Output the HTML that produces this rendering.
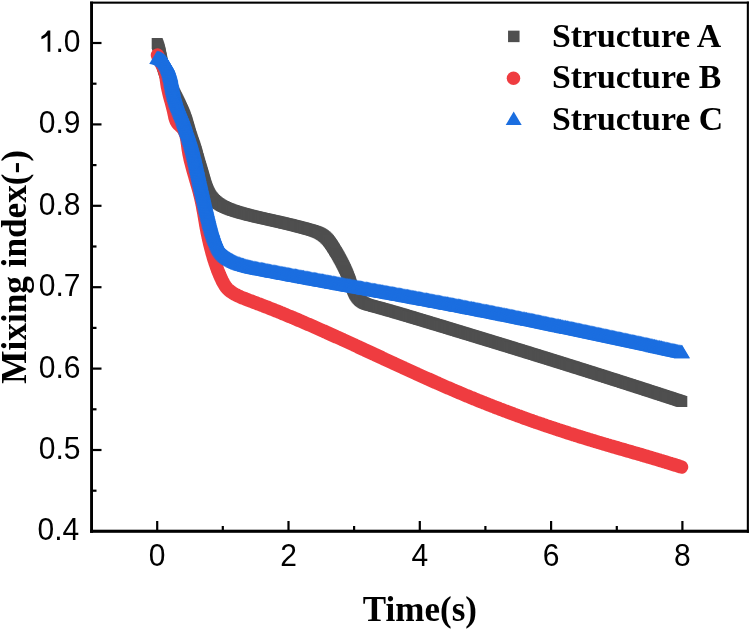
<!DOCTYPE html>
<html><head><meta charset="utf-8"><style>
html,body{margin:0;padding:0;background:#fff;}
svg{display:block;will-change:transform;}
</style></head><body>
<svg width="750" height="629" viewBox="0 0 750 629">
<defs>
<marker id="mq" markerUnits="userSpaceOnUse" markerWidth="20" markerHeight="20" refX="10" refY="10" overflow="visible"><rect x="4.5" y="4.5" width="11.0" height="11.0" fill="#4f4f4f"/></marker>
<marker id="mt" markerUnits="userSpaceOnUse" markerWidth="20" markerHeight="20" refX="10" refY="10" overflow="visible"><path d="M10 3.25 L18.0 16.75 L2.0 16.75 Z" fill="#1b6ee0"/></marker>
</defs>
<rect x="0" y="0" width="750" height="629" fill="#fff"/>
<g fill="none">
<polyline points="157.2,43.5 157.6,44.6 158.0,45.7 158.4,46.9 158.8,48.0 159.1,49.2 159.4,50.3 159.7,51.5 160.0,52.7 160.2,53.8 160.5,55.0 160.7,56.2 161.0,57.4 161.2,58.6 161.4,59.7 161.7,60.9 161.9,62.1 162.2,63.3 162.4,64.4 162.7,65.6 163.0,66.7 163.4,67.9 163.7,69.1 164.1,70.2 164.5,71.3 164.9,72.5 165.3,73.6 165.7,74.7 166.2,75.8 166.6,76.9 167.1,78.0 167.5,79.1 168.0,80.2 168.5,81.3 169.0,82.4 169.5,83.5 170.0,84.6 170.5,85.7 171.0,86.8 171.5,87.9 172.0,89.0 172.5,90.1 173.1,91.1 173.6,92.2 174.1,93.3 174.7,94.4 175.2,95.4 175.7,96.5 176.3,97.6 176.8,98.6 177.3,99.7 177.9,100.8 178.4,101.9 178.9,102.9 179.5,104.0 180.0,105.1 180.5,106.2 181.0,107.3 181.5,108.4 182.0,109.5 182.5,110.6 183.0,111.7 183.5,112.8 183.9,113.9 184.4,115.0 184.8,116.1 185.2,117.2 185.6,118.4 186.0,119.5 186.4,120.6 186.8,121.8 187.1,122.9 187.5,124.1 187.8,125.2 188.1,126.4 188.5,127.5 188.8,128.7 189.1,129.8 189.5,131.0 189.8,132.1 190.1,133.3 190.5,134.4 190.8,135.6 191.2,136.7 191.6,137.9 191.9,139.0 192.3,140.1 192.7,141.3 193.1,142.4 193.5,143.5 193.9,144.7 194.3,145.8 194.7,146.9 195.0,148.1 195.4,149.2 195.8,150.4 196.1,151.5 196.4,152.7 196.8,153.8 197.1,155.0 197.4,156.1 197.7,157.3 198.1,158.5 198.4,159.6 198.7,160.8 199.0,161.9 199.4,163.1 199.7,164.2 200.0,165.4 200.4,166.5 200.7,167.7 201.1,168.8 201.4,170.0 201.8,171.1 202.1,172.3 202.5,173.4 202.8,174.6 203.1,175.7 203.5,176.9 203.8,178.0 204.1,179.2 204.4,180.3 204.8,181.5 205.1,182.7 205.4,183.8 205.8,185.0 206.2,186.1 206.6,187.2 207.0,188.4 207.4,189.5 207.9,190.6 208.3,191.7 208.9,192.8 209.4,193.8 210.0,194.9 210.6,195.9 211.3,196.9 212.1,197.8 212.8,198.7 213.6,199.6 214.5,200.5 215.4,201.3 216.3,202.0 217.3,202.8 218.2,203.5 219.2,204.1 220.2,204.8 221.3,205.4 222.3,206.0 223.4,206.5 224.5,207.0 225.6,207.5 226.7,208.0 227.8,208.5 228.9,208.9 230.0,209.3 231.1,209.8 232.3,210.2 233.4,210.5 234.6,210.9 235.7,211.3 236.8,211.6 238.0,212.0 239.1,212.3 240.3,212.7 241.4,213.0 242.6,213.3 243.8,213.6 244.9,213.9 246.1,214.2 247.2,214.6 248.4,214.9 249.6,215.2 250.7,215.4 251.9,215.7 253.1,216.0 254.2,216.3 255.4,216.6 256.6,216.9 257.7,217.1 258.9,217.4 260.1,217.7 261.2,217.9 262.4,218.2 263.6,218.5 264.7,218.7 265.9,219.0 267.1,219.2 268.3,219.5 269.4,219.8 270.6,220.0 271.8,220.3 272.9,220.6 274.1,220.8 275.3,221.1 276.5,221.3 277.6,221.6 278.8,221.9 280.0,222.1 281.1,222.4 282.3,222.7 283.5,223.0 284.6,223.2 285.8,223.5 287.0,223.8 288.1,224.1 289.3,224.3 290.5,224.6 291.6,224.9 292.8,225.2 294.0,225.5 295.1,225.8 296.3,226.1 297.5,226.4 298.6,226.7 299.8,227.0 300.9,227.3 302.1,227.6 303.3,227.9 304.4,228.2 305.6,228.5 306.7,228.9 307.9,229.2 309.0,229.5 310.2,229.8 311.3,230.2 312.5,230.5 313.6,230.9 314.8,231.3 315.9,231.7 317.0,232.1 318.1,232.6 319.2,233.1 320.3,233.7 321.3,234.3 322.3,234.9 323.3,235.6 324.2,236.4 325.2,237.1 326.0,238.0 326.9,238.8 327.7,239.7 328.5,240.6 329.2,241.5 329.9,242.5 330.6,243.5 331.3,244.5 332.0,245.5 332.6,246.5 333.2,247.5 333.9,248.5 334.5,249.6 335.1,250.6 335.7,251.6 336.4,252.6 337.0,253.7 337.6,254.7 338.2,255.8 338.8,256.8 339.3,257.8 339.9,258.9 340.5,259.9 341.1,261.0 341.6,262.1 342.2,263.1 342.7,264.2 343.3,265.3 343.8,266.3 344.3,267.4 344.8,268.5 345.4,269.6 345.8,270.7 346.3,271.8 346.8,272.9 347.3,274.0 347.7,275.1 348.2,276.2 348.6,277.3 349.0,278.5 349.5,279.6 349.9,280.7 350.3,281.8 350.6,283.0 351.0,284.1 351.4,285.3 351.8,286.4 352.2,287.5 352.6,288.7 353.0,289.8 353.5,290.9 354.0,292.0 354.5,293.1 355.1,294.1 355.7,295.1 356.4,296.1 357.1,297.1 357.8,298.0 358.6,298.9 359.5,299.8 360.4,300.6 361.3,301.3 362.3,302.0 363.3,302.7 364.4,303.2 365.4,303.7 366.6,304.1 367.7,304.5 368.8,304.9 370.0,305.2 371.2,305.5 372.3,305.8 373.5,306.2 374.6,306.5 375.8,306.8 377.0,307.1 378.1,307.4 379.3,307.7 380.4,308.0 381.6,308.4 382.7,308.7 383.9,309.0 385.0,309.3 386.2,309.7 387.4,310.0 388.5,310.3 389.7,310.7 390.8,311.0 392.0,311.3 393.1,311.6 394.3,312.0 395.4,312.3 396.6,312.7 397.7,313.0 398.9,313.3 400.0,313.7 401.2,314.0 402.3,314.3 403.5,314.7 404.6,315.0 405.8,315.4 406.9,315.7 408.1,316.1 409.2,316.4 410.4,316.7 411.5,317.1 412.7,317.4 413.8,317.8 415.0,318.1 416.1,318.5 417.3,318.8 418.4,319.2 419.6,319.5 420.7,319.8 421.9,320.2 423.0,320.5 424.2,320.9 425.3,321.2 426.5,321.6 427.6,321.9 428.8,322.3 429.9,322.6 431.1,323.0 432.2,323.3 433.4,323.7 434.5,324.0 435.7,324.4 436.8,324.7 438.0,325.0 439.1,325.4 440.3,325.7 441.4,326.1 442.6,326.4 443.7,326.8 444.9,327.1 446.0,327.5 447.2,327.8 448.3,328.2 449.4,328.5 450.6,328.9 451.7,329.2 452.9,329.6 454.0,329.9 455.2,330.3 456.3,330.6 457.5,331.0 458.6,331.3 459.8,331.7 460.9,332.0 462.1,332.4 463.2,332.7 464.4,333.1 465.5,333.4 466.7,333.8 467.8,334.1 469.0,334.5 470.1,334.8 471.3,335.2 472.4,335.5 473.6,335.9 474.7,336.2 475.9,336.6 477.0,336.9 478.2,337.3 479.3,337.6 480.4,338.0 481.6,338.3 482.7,338.7 483.9,339.0 485.0,339.4 486.2,339.7 487.3,340.1 488.5,340.4 489.6,340.8 490.8,341.1 491.9,341.5 493.1,341.8 494.2,342.2 495.4,342.5 496.5,342.9 497.7,343.2 498.8,343.6 500.0,343.9 501.1,344.3 502.2,344.6 503.4,345.0 504.5,345.3 505.7,345.7 506.8,346.0 508.0,346.4 509.1,346.7 510.3,347.1 511.4,347.4 512.6,347.8 513.7,348.2 514.9,348.5 516.0,348.9 517.2,349.2 518.3,349.6 519.5,349.9 520.6,350.3 521.7,350.6 522.9,351.0 524.0,351.3 525.2,351.7 526.3,352.0 527.5,352.4 528.6,352.8 529.8,353.1 530.9,353.5 532.1,353.8 533.2,354.2 534.4,354.5 535.5,354.9 536.6,355.2 537.8,355.6 538.9,356.0 540.1,356.3 541.2,356.7 542.4,357.0 543.5,357.4 544.7,357.7 545.8,358.1 547.0,358.4 548.1,358.8 549.3,359.2 550.4,359.5 551.5,359.9 552.7,360.2 553.8,360.6 555.0,360.9 556.1,361.3 557.3,361.7 558.4,362.0 559.6,362.4 560.7,362.7 561.9,363.1 563.0,363.4 564.1,363.8 565.3,364.2 566.4,364.5 567.6,364.9 568.7,365.2 569.9,365.6 571.0,366.0 572.2,366.3 573.3,366.7 574.5,367.0 575.6,367.4 576.7,367.8 577.9,368.1 579.0,368.5 580.2,368.8 581.3,369.2 582.5,369.6 583.6,369.9 584.8,370.3 585.9,370.6 587.0,371.0 588.2,371.4 589.3,371.7 590.5,372.1 591.6,372.4 592.8,372.8 593.9,373.2 595.1,373.5 596.2,373.9 597.3,374.3 598.5,374.6 599.6,375.0 600.8,375.3 601.9,375.7 603.1,376.1 604.2,376.4 605.3,376.8 606.5,377.2 607.6,377.5 608.8,377.9 609.9,378.3 611.1,378.6 612.2,379.0 613.3,379.3 614.5,379.7 615.6,380.1 616.8,380.4 617.9,380.8 619.1,381.2 620.2,381.5 621.4,381.9 622.5,382.3 623.6,382.6 624.8,383.0 625.9,383.4 627.1,383.7 628.2,384.1 629.4,384.5 630.5,384.8 631.6,385.2 632.8,385.6 633.9,385.9 635.1,386.3 636.2,386.7 637.3,387.0 638.5,387.4 639.6,387.8 640.8,388.1 641.9,388.5 643.1,388.9 644.2,389.2 645.3,389.6 646.5,390.0 647.6,390.4 648.8,390.7 649.9,391.1 651.1,391.5 652.2,391.8 653.3,392.2 654.5,392.6 655.6,392.9 656.8,393.3 657.9,393.7 659.0,394.1 660.2,394.4 661.3,394.8 662.5,395.2 663.6,395.5 664.7,395.9 665.9,396.3 667.0,396.7 668.2,397.0 669.3,397.4 670.5,397.8 671.6,398.1 672.7,398.5 673.9,398.9 675.0,399.3 676.2,399.6 677.3,400.0 678.4,400.4 679.6,400.8 680.7,401.1 681.8,401.5" stroke="none" marker-start="url(#mq)" marker-mid="url(#mq)" marker-end="url(#mq)"/>
<polyline points="157.5,55.0 157.9,56.1 158.3,57.3 158.8,58.4 159.3,59.4 159.8,60.5 160.3,61.6 160.9,62.7 161.4,63.8 161.9,64.8 162.5,65.9 163.0,67.0 163.5,68.1 163.9,69.2 164.4,70.3 164.8,71.4 165.1,72.6 165.4,73.8 165.7,74.9 165.9,76.1 166.1,77.3 166.3,78.5 166.4,79.7 166.6,80.9 166.8,82.0 166.9,83.2 167.1,84.4 167.3,85.6 167.5,86.8 167.8,88.0 168.0,89.1 168.3,90.3 168.6,91.5 168.8,92.6 169.1,93.8 169.4,95.0 169.7,96.1 170.0,97.3 170.3,98.4 170.6,99.6 171.0,100.8 171.3,101.9 171.6,103.1 171.9,104.2 172.2,105.4 172.5,106.6 172.8,107.7 173.1,108.9 173.4,110.1 173.7,111.2 173.9,112.4 174.2,113.6 174.4,114.7 174.7,115.9 174.9,117.1 175.2,118.2 175.6,119.4 176.0,120.5 176.5,121.6 177.1,122.6 177.8,123.6 178.6,124.5 179.5,125.3 180.4,126.1 181.3,126.9 182.1,127.8 182.9,128.7 183.6,129.7 184.2,130.7 184.7,131.8 185.2,132.9 185.6,134.0 186.0,135.2 186.3,136.3 186.6,137.5 186.8,138.7 187.0,139.8 187.2,141.0 187.3,142.2 187.5,143.4 187.7,144.6 187.8,145.8 188.0,147.0 188.1,148.2 188.3,149.4 188.5,150.5 188.7,151.7 188.9,152.9 189.1,154.1 189.4,155.3 189.6,156.4 189.9,157.6 190.1,158.8 190.4,160.0 190.7,161.1 191.0,162.3 191.3,163.4 191.6,164.6 191.9,165.8 192.2,166.9 192.5,168.1 192.8,169.2 193.1,170.4 193.5,171.6 193.8,172.7 194.1,173.9 194.5,175.0 194.8,176.2 195.1,177.3 195.5,178.5 195.8,179.6 196.1,180.8 196.5,181.9 196.8,183.1 197.1,184.2 197.5,185.4 197.8,186.5 198.1,187.7 198.5,188.8 198.8,190.0 199.1,191.2 199.4,192.3 199.7,193.5 200.0,194.6 200.3,195.8 200.6,197.0 200.9,198.1 201.1,199.3 201.4,200.5 201.6,201.7 201.9,202.8 202.1,204.0 202.4,205.2 202.6,206.4 202.8,207.5 203.0,208.7 203.2,209.9 203.5,211.1 203.7,212.3 203.9,213.4 204.1,214.6 204.3,215.8 204.5,217.0 204.7,218.2 204.9,219.4 205.1,220.5 205.3,221.7 205.5,222.9 205.7,224.1 205.9,225.3 206.1,226.5 206.3,227.6 206.6,228.8 206.8,230.0 207.0,231.2 207.2,232.3 207.5,233.5 207.7,234.7 208.0,235.9 208.2,237.0 208.5,238.2 208.7,239.4 209.0,240.6 209.3,241.7 209.5,242.9 209.8,244.1 210.1,245.2 210.4,246.4 210.7,247.6 211.0,248.7 211.3,249.9 211.6,251.0 211.9,252.2 212.2,253.4 212.6,254.5 212.9,255.7 213.2,256.8 213.6,258.0 213.9,259.1 214.3,260.3 214.7,261.4 215.0,262.5 215.4,263.7 215.8,264.8 216.2,265.9 216.6,267.1 217.0,268.2 217.4,269.3 217.8,270.5 218.3,271.6 218.7,272.7 219.2,273.8 219.6,274.9 220.1,276.0 220.6,277.1 221.1,278.2 221.6,279.3 222.1,280.4 222.6,281.4 223.2,282.5 223.8,283.6 224.4,284.6 225.0,285.6 225.7,286.6 226.4,287.6 227.2,288.5 228.0,289.3 228.9,290.2 229.8,290.9 230.8,291.6 231.8,292.3 232.8,293.0 233.8,293.6 234.9,294.2 235.9,294.7 237.0,295.3 238.1,295.8 239.2,296.3 240.2,296.8 241.3,297.3 242.4,297.8 243.6,298.2 244.7,298.7 245.8,299.1 246.9,299.5 248.0,300.0 249.1,300.4 250.3,300.8 251.4,301.2 252.5,301.6 253.6,302.1 254.8,302.5 255.9,302.9 257.0,303.3 258.1,303.8 259.3,304.2 260.4,304.6 261.5,305.1 262.6,305.5 263.7,305.9 264.9,306.4 266.0,306.8 267.1,307.2 268.2,307.7 269.3,308.1 270.4,308.6 271.6,309.0 272.7,309.4 273.8,309.9 274.9,310.3 276.0,310.8 277.1,311.2 278.2,311.7 279.3,312.1 280.5,312.6 281.6,313.0 282.7,313.5 283.8,314.0 284.9,314.4 286.0,314.9 287.1,315.3 288.2,315.8 289.3,316.3 290.4,316.7 291.5,317.2 292.6,317.6 293.8,318.1 294.9,318.6 296.0,319.0 297.1,319.5 298.2,320.0 299.3,320.5 300.4,320.9 301.5,321.4 302.6,321.9 303.7,322.4 304.8,322.8 305.9,323.3 307.0,323.8 308.1,324.3 309.2,324.7 310.3,325.2 311.4,325.7 312.5,326.2 313.6,326.7 314.7,327.1 315.8,327.6 316.9,328.1 318.0,328.6 319.1,329.1 320.2,329.6 321.3,330.1 322.4,330.6 323.5,331.0 324.6,331.5 325.7,332.0 326.7,332.5 327.8,333.0 328.9,333.5 330.0,334.0 331.1,334.5 332.2,335.0 333.3,335.5 334.4,336.0 335.5,336.5 336.6,337.0 337.7,337.4 338.8,337.9 339.9,338.4 341.0,338.9 342.1,339.4 343.1,339.9 344.2,340.4 345.3,340.9 346.4,341.4 347.5,341.9 348.6,342.4 349.7,342.9 350.8,343.4 351.9,343.9 353.0,344.4 354.1,344.9 355.1,345.4 356.2,345.9 357.3,346.4 358.4,347.0 359.5,347.5 360.6,348.0 361.7,348.5 362.8,349.0 363.9,349.5 364.9,350.0 366.0,350.5 367.1,351.0 368.2,351.5 369.3,352.0 370.4,352.5 371.5,353.0 372.6,353.5 373.7,354.0 374.7,354.5 375.8,355.0 376.9,355.5 378.0,356.0 379.1,356.5 380.2,357.0 381.3,357.5 382.4,358.1 383.5,358.6 384.5,359.1 385.6,359.6 386.7,360.1 387.8,360.6 388.9,361.1 390.0,361.6 391.1,362.1 392.2,362.6 393.3,363.1 394.3,363.6 395.4,364.1 396.5,364.6 397.6,365.1 398.7,365.6 399.8,366.1 400.9,366.6 402.0,367.1 403.1,367.6 404.1,368.1 405.2,368.6 406.3,369.1 407.4,369.6 408.5,370.1 409.6,370.6 410.7,371.1 411.8,371.6 412.9,372.1 414.0,372.6 415.1,373.1 416.2,373.6 417.2,374.1 418.3,374.6 419.4,375.1 420.5,375.6 421.6,376.1 422.7,376.6 423.8,377.1 424.9,377.6 426.0,378.1 427.1,378.6 428.2,379.0 429.3,379.5 430.4,380.0 431.5,380.5 432.6,381.0 433.7,381.5 434.8,382.0 435.9,382.5 437.0,382.9 438.0,383.4 439.1,383.9 440.2,384.4 441.3,384.9 442.4,385.4 443.5,385.8 444.6,386.3 445.7,386.8 446.8,387.3 447.9,387.8 449.0,388.2 450.1,388.7 451.2,389.2 452.3,389.7 453.5,390.1 454.6,390.6 455.7,391.1 456.8,391.6 457.9,392.0 459.0,392.5 460.1,393.0 461.2,393.4 462.3,393.9 463.4,394.4 464.5,394.8 465.6,395.3 466.7,395.8 467.8,396.2 468.9,396.7 470.0,397.1 471.1,397.6 472.3,398.0 473.4,398.5 474.5,399.0 475.6,399.4 476.7,399.9 477.8,400.3 478.9,400.8 480.0,401.2 481.2,401.7 482.3,402.1 483.4,402.5 484.5,403.0 485.6,403.4 486.7,403.9 487.8,404.3 489.0,404.8 490.1,405.2 491.2,405.6 492.3,406.1 493.4,406.5 494.5,406.9 495.7,407.4 496.8,407.8 497.9,408.2 499.0,408.7 500.1,409.1 501.3,409.5 502.4,409.9 503.5,410.4 504.6,410.8 505.8,411.2 506.9,411.6 508.0,412.1 509.1,412.5 510.3,412.9 511.4,413.3 512.5,413.7 513.6,414.2 514.8,414.6 515.9,415.0 517.0,415.4 518.1,415.8 519.3,416.2 520.4,416.6 521.5,417.0 522.6,417.4 523.8,417.9 524.9,418.3 526.0,418.7 527.2,419.1 528.3,419.5 529.4,419.9 530.6,420.3 531.7,420.7 532.8,421.1 534.0,421.5 535.1,421.9 536.2,422.3 537.4,422.7 538.5,423.0 539.6,423.4 540.8,423.8 541.9,424.2 543.0,424.6 544.2,425.0 545.3,425.4 546.4,425.8 547.6,426.2 548.7,426.5 549.8,426.9 551.0,427.3 552.1,427.7 553.3,428.1 554.4,428.4 555.5,428.8 556.7,429.2 557.8,429.6 559.0,430.0 560.1,430.3 561.2,430.7 562.4,431.1 563.5,431.4 564.7,431.8 565.8,432.2 566.9,432.6 568.1,432.9 569.2,433.3 570.4,433.7 571.5,434.0 572.7,434.4 573.8,434.8 574.9,435.1 576.1,435.5 577.2,435.8 578.4,436.2 579.5,436.6 580.7,436.9 581.8,437.3 583.0,437.6 584.1,438.0 585.3,438.3 586.4,438.7 587.5,439.0 588.7,439.4 589.8,439.7 591.0,440.1 592.1,440.4 593.3,440.8 594.4,441.1 595.6,441.5 596.7,441.8 597.9,442.2 599.0,442.5 600.2,442.8 601.3,443.2 602.5,443.5 603.6,443.9 604.8,444.2 605.9,444.5 607.1,444.9 608.2,445.2 609.4,445.6 610.5,445.9 611.7,446.2 612.8,446.6 614.0,446.9 615.1,447.2 616.3,447.6 617.5,447.9 618.6,448.3 619.8,448.6 620.9,448.9 622.1,449.3 623.2,449.6 624.4,449.9 625.5,450.3 626.7,450.6 627.8,450.9 629.0,451.3 630.1,451.6 631.3,451.9 632.4,452.3 633.6,452.6 634.7,452.9 635.9,453.3 637.0,453.6 638.2,453.9 639.4,454.3 640.5,454.6 641.7,454.9 642.8,455.3 644.0,455.6 645.1,455.9 646.3,456.3 647.4,456.6 648.6,457.0 649.7,457.3 650.9,457.6 652.0,458.0 653.2,458.3 654.3,458.7 655.5,459.0 656.6,459.3 657.8,459.7 658.9,460.0 660.1,460.4 661.2,460.7 662.4,461.1 663.5,461.4 664.7,461.8 665.8,462.1 667.0,462.5 668.1,462.8 669.3,463.2 670.4,463.5 671.6,463.9 672.7,464.2 673.8,464.6 675.0,464.9 676.1,465.3 677.3,465.6 678.4,466.0 679.6,466.4 680.7,466.7 681.5,467.0" stroke="#ef3c40" stroke-width="13.5" stroke-linejoin="round" stroke-linecap="round"/>
<polyline points="157.2,57.2 158.4,57.4 159.6,57.7 160.7,58.2 161.8,58.7 162.8,59.4 163.7,60.2 164.5,61.0 165.3,62.0 165.9,63.0 166.6,64.0 167.1,65.1 167.6,66.1 168.0,67.3 168.4,68.4 168.8,69.5 169.2,70.7 169.5,71.8 169.8,73.0 170.1,74.2 170.3,75.3 170.6,76.5 170.8,77.7 171.1,78.9 171.3,80.0 171.5,81.2 171.7,82.4 172.0,83.6 172.2,84.8 172.4,85.9 172.7,87.1 172.9,88.3 173.2,89.5 173.4,90.6 173.7,91.8 174.0,93.0 174.3,94.1 174.6,95.3 175.0,96.4 175.3,97.6 175.6,98.7 176.0,99.9 176.4,101.0 176.8,102.1 177.2,103.3 177.6,104.4 178.1,105.5 178.5,106.6 179.0,107.7 179.4,108.8 179.9,109.9 180.4,111.0 180.8,112.2 181.3,113.3 181.7,114.4 182.2,115.5 182.6,116.6 183.0,117.7 183.4,118.9 183.8,120.0 184.2,121.2 184.5,122.3 184.9,123.4 185.3,124.6 185.6,125.7 186.0,126.9 186.4,128.0 186.8,129.1 187.2,130.3 187.6,131.4 188.0,132.5 188.4,133.7 188.7,134.8 189.1,135.9 189.5,137.1 189.8,138.2 190.2,139.4 190.5,140.5 190.9,141.7 191.2,142.8 191.5,144.0 191.8,145.1 192.1,146.3 192.4,147.5 192.7,148.6 193.0,149.8 193.3,151.0 193.6,152.1 193.9,153.3 194.2,154.5 194.4,155.6 194.7,156.8 195.0,158.0 195.2,159.1 195.5,160.3 195.8,161.5 196.0,162.7 196.3,163.8 196.5,165.0 196.8,166.2 197.1,167.3 197.3,168.5 197.6,169.7 197.8,170.9 198.1,172.0 198.4,173.2 198.6,174.4 198.9,175.5 199.1,176.7 199.4,177.9 199.7,179.1 199.9,180.2 200.2,181.4 200.5,182.6 200.7,183.7 201.0,184.9 201.3,186.1 201.5,187.2 201.8,188.4 202.1,189.6 202.3,190.8 202.6,191.9 202.9,193.1 203.1,194.3 203.4,195.4 203.7,196.6 204.0,197.8 204.2,198.9 204.5,200.1 204.8,201.3 205.1,202.4 205.3,203.6 205.6,204.8 205.9,205.9 206.2,207.1 206.4,208.3 206.7,209.4 207.0,210.6 207.3,211.8 207.6,212.9 207.8,214.1 208.1,215.3 208.4,216.4 208.7,217.6 209.0,218.8 209.3,219.9 209.6,221.1 209.9,222.3 210.2,223.4 210.5,224.6 210.9,225.7 211.2,226.9 211.5,228.0 211.9,229.2 212.3,230.3 212.6,231.5 213.0,232.6 213.4,233.7 213.8,234.9 214.2,236.0 214.6,237.1 215.1,238.2 215.5,239.3 216.0,240.5 216.5,241.6 216.9,242.7 217.4,243.7 217.9,244.8 218.4,245.9 219.0,247.0 219.5,248.1 220.1,249.1 220.8,250.1 221.5,251.1 222.2,252.0 223.0,252.9 223.8,253.8 224.7,254.7 225.6,255.5 226.5,256.2 227.4,257.0 228.4,257.7 229.4,258.3 230.4,259.0 231.5,259.6 232.5,260.1 233.6,260.7 234.7,261.2 235.8,261.7 236.9,262.2 238.0,262.7 239.1,263.1 240.2,263.5 241.3,263.9 242.5,264.3 243.6,264.6 244.8,265.0 245.9,265.3 247.1,265.6 248.3,265.9 249.4,266.2 250.6,266.5 251.8,266.7 252.9,267.0 254.1,267.2 255.3,267.5 256.5,267.7 257.6,267.9 258.8,268.2 260.0,268.4 261.2,268.6 262.4,268.8 263.5,269.1 264.7,269.3 265.9,269.5 267.1,269.8 268.2,270.0 269.4,270.2 270.6,270.4 271.8,270.7 273.0,270.9 274.1,271.1 275.3,271.3 276.5,271.6 277.7,271.8 278.9,272.0 280.0,272.2 281.2,272.4 282.4,272.7 283.6,272.9 284.8,273.1 285.9,273.3 287.1,273.6 288.3,273.8 289.5,274.0 290.6,274.2 291.8,274.4 293.0,274.7 294.2,274.9 295.4,275.1 296.5,275.3 297.7,275.5 298.9,275.8 300.1,276.0 301.3,276.2 302.4,276.4 303.6,276.6 304.8,276.9 306.0,277.1 307.2,277.3 308.3,277.5 309.5,277.7 310.7,278.0 311.9,278.2 313.1,278.4 314.2,278.6 315.4,278.8 316.6,279.0 317.8,279.3 319.0,279.5 320.1,279.7 321.3,279.9 322.5,280.1 323.7,280.3 324.9,280.6 326.0,280.8 327.2,281.0 328.4,281.2 329.6,281.4 330.8,281.6 331.9,281.9 333.1,282.1 334.3,282.3 335.5,282.5 336.7,282.7 337.9,282.9 339.0,283.1 340.2,283.4 341.4,283.6 342.6,283.8 343.8,284.0 344.9,284.2 346.1,284.4 347.3,284.7 348.5,284.9 349.7,285.1 350.8,285.3 352.0,285.5 353.2,285.7 354.4,285.9 355.6,286.2 356.7,286.4 357.9,286.6 359.1,286.8 360.3,287.0 361.5,287.2 362.6,287.4 363.8,287.7 365.0,287.9 366.2,288.1 367.4,288.3 368.5,288.5 369.7,288.7 370.9,288.9 372.1,289.2 373.3,289.4 374.5,289.6 375.6,289.8 376.8,290.0 378.0,290.2 379.2,290.4 380.4,290.7 381.5,290.9 382.7,291.1 383.9,291.3 385.1,291.5 386.3,291.7 387.4,291.9 388.6,292.2 389.8,292.4 391.0,292.6 392.2,292.8 393.3,293.0 394.5,293.2 395.7,293.5 396.9,293.7 398.1,293.9 399.2,294.1 400.4,294.3 401.6,294.5 402.8,294.8 404.0,295.0 405.1,295.2 406.3,295.4 407.5,295.6 408.7,295.8 409.9,296.1 411.0,296.3 412.2,296.5 413.4,296.7 414.6,296.9 415.8,297.1 416.9,297.4 418.1,297.6 419.3,297.8 420.5,298.0 421.7,298.2 422.8,298.5 424.0,298.7 425.2,298.9 426.4,299.1 427.6,299.3 428.7,299.6 429.9,299.8 431.1,300.0 432.3,300.2 433.5,300.4 434.6,300.7 435.8,300.9 437.0,301.1 438.2,301.3 439.4,301.5 440.5,301.8 441.7,302.0 442.9,302.2 444.1,302.4 445.3,302.7 446.4,302.9 447.6,303.1 448.8,303.3 450.0,303.5 451.1,303.8 452.3,304.0 453.5,304.2 454.7,304.4 455.9,304.7 457.0,304.9 458.2,305.1 459.4,305.3 460.6,305.6 461.8,305.8 462.9,306.0 464.1,306.3 465.3,306.5 466.5,306.7 467.6,306.9 468.8,307.2 470.0,307.4 471.2,307.6 472.4,307.9 473.5,308.1 474.7,308.3 475.9,308.5 477.1,308.8 478.2,309.0 479.4,309.2 480.6,309.5 481.8,309.7 483.0,309.9 484.1,310.2 485.3,310.4 486.5,310.6 487.7,310.8 488.8,311.1 490.0,311.3 491.2,311.5 492.4,311.8 493.6,312.0 494.7,312.2 495.9,312.5 497.1,312.7 498.3,312.9 499.4,313.2 500.6,313.4 501.8,313.6 503.0,313.9 504.1,314.1 505.3,314.4 506.5,314.6 507.7,314.8 508.9,315.1 510.0,315.3 511.2,315.5 512.4,315.8 513.6,316.0 514.7,316.2 515.9,316.5 517.1,316.7 518.3,317.0 519.4,317.2 520.6,317.4 521.8,317.7 523.0,317.9 524.1,318.1 525.3,318.4 526.5,318.6 527.7,318.9 528.9,319.1 530.0,319.3 531.2,319.6 532.4,319.8 533.6,320.1 534.7,320.3 535.9,320.5 537.1,320.8 538.3,321.0 539.4,321.3 540.6,321.5 541.8,321.7 543.0,322.0 544.1,322.2 545.3,322.5 546.5,322.7 547.7,323.0 548.8,323.2 550.0,323.4 551.2,323.7 552.4,323.9 553.5,324.2 554.7,324.4 555.9,324.7 557.1,324.9 558.2,325.1 559.4,325.4 560.6,325.6 561.8,325.9 562.9,326.1 564.1,326.4 565.3,326.6 566.5,326.9 567.6,327.1 568.8,327.3 570.0,327.6 571.2,327.8 572.3,328.1 573.5,328.3 574.7,328.6 575.9,328.8 577.0,329.1 578.2,329.3 579.4,329.6 580.6,329.8 581.7,330.1 582.9,330.3 584.1,330.5 585.3,330.8 586.4,331.0 587.6,331.3 588.8,331.5 589.9,331.8 591.1,332.0 592.3,332.3 593.5,332.5 594.6,332.8 595.8,333.0 597.0,333.3 598.2,333.5 599.3,333.8 600.5,334.0 601.7,334.3 602.9,334.5 604.0,334.8 605.2,335.0 606.4,335.3 607.6,335.5 608.7,335.8 609.9,336.0 611.1,336.3 612.3,336.5 613.4,336.8 614.6,337.0 615.8,337.3 616.9,337.5 618.1,337.8 619.3,338.0 620.5,338.3 621.6,338.5 622.8,338.8 624.0,339.0 625.2,339.3 626.3,339.5 627.5,339.8 628.7,340.0 629.9,340.3 631.0,340.5 632.2,340.8 633.4,341.0 634.5,341.3 635.7,341.6 636.9,341.8 638.1,342.1 639.2,342.3 640.4,342.6 641.6,342.8 642.8,343.1 643.9,343.3 645.1,343.6 646.3,343.8 647.4,344.1 648.6,344.3 649.8,344.6 651.0,344.8 652.1,345.1 653.3,345.4 654.5,345.6 655.7,345.9 656.8,346.1 658.0,346.4 659.2,346.6 660.3,346.9 661.5,347.1 662.7,347.4 663.9,347.6 665.0,347.9 666.2,348.2 667.4,348.4 668.6,348.7 669.7,348.9 670.9,349.2 672.1,349.4 673.2,349.7 674.4,349.9 675.6,350.2 676.8,350.4 677.9,350.7 679.1,351.0 680.3,351.2 681.5,351.5 682.0,351.6" stroke="none" marker-start="url(#mt)" marker-mid="url(#mt)" marker-end="url(#mt)"/>
</g>
<g stroke="#000" stroke-width="2.2">
<line x1="157.2" y1="531" x2="157.2" y2="521" />
<line x1="222.8" y1="531" x2="222.8" y2="526" />
<line x1="288.5" y1="531" x2="288.5" y2="521" />
<line x1="354.1" y1="531" x2="354.1" y2="526" />
<line x1="419.8" y1="531" x2="419.8" y2="521" />
<line x1="485.4" y1="531" x2="485.4" y2="526" />
<line x1="551.1" y1="531" x2="551.1" y2="521" />
<line x1="616.8" y1="531" x2="616.8" y2="526" />
<line x1="682.4" y1="531" x2="682.4" y2="521" />
<line x1="91.5" y1="490.7" x2="96.5" y2="490.7" />
<line x1="91.5" y1="450.0" x2="101.5" y2="450.0" />
<line x1="91.5" y1="409.3" x2="96.5" y2="409.3" />
<line x1="91.5" y1="368.6" x2="101.5" y2="368.6" />
<line x1="91.5" y1="327.9" x2="96.5" y2="327.9" />
<line x1="91.5" y1="287.2" x2="101.5" y2="287.2" />
<line x1="91.5" y1="246.5" x2="96.5" y2="246.5" />
<line x1="91.5" y1="205.8" x2="101.5" y2="205.8" />
<line x1="91.5" y1="165.1" x2="96.5" y2="165.1" />
<line x1="91.5" y1="124.4" x2="101.5" y2="124.4" />
<line x1="91.5" y1="83.7" x2="96.5" y2="83.7" />
<line x1="91.5" y1="43.0" x2="101.5" y2="43.0" />
</g>
<g fill="#000" stroke="none">
<rect x="90.1" y="1.6" width="2.9" height="531.2"/>
<rect x="90.1" y="529.7" width="658.9" height="3.1"/>
<rect x="90.1" y="1.6" width="658.9" height="2.1"/>
<rect x="746.8" y="1.6" width="2.1" height="531.2"/>
</g>
<g font-family="Liberation Sans, sans-serif" font-size="30" fill="#000">
<text transform="translate(157.2,565.6) scale(1,1.05)" text-anchor="middle">0</text>
<text transform="translate(288.5,565.6) scale(1,1.05)" text-anchor="middle">2</text>
<text transform="translate(419.8,565.6) scale(1,1.05)" text-anchor="middle">4</text>
<text transform="translate(551.1,565.6) scale(1,1.05)" text-anchor="middle">6</text>
<text transform="translate(682.4,565.6) scale(1,1.05)" text-anchor="middle">8</text>
<text transform="translate(80.5,51.9) scale(1,1.05)" text-anchor="end">.0</text>
<path d="M47.8 30.6 L50.3 30.6 L50.3 51.7 L47.6 51.7 L47.6 35.4 Q45.0 37.8 41.4 39.3 L41.4 36.6 Q45.8 34.4 47.8 30.6 Z" fill="#000" stroke="none"/>
<text transform="translate(80.5,133.3) scale(1,1.05)" text-anchor="end">0.9</text>
<text transform="translate(80.5,214.7) scale(1,1.05)" text-anchor="end">0.8</text>
<text transform="translate(80.5,296.1) scale(1,1.05)" text-anchor="end">0.7</text>
<text transform="translate(80.5,377.5) scale(1,1.05)" text-anchor="end">0.6</text>
<text transform="translate(80.5,458.9) scale(1,1.05)" text-anchor="end">0.5</text>
<text transform="translate(79.3,540.3) scale(1,1.05)" text-anchor="end">0.4</text>
</g>
<g font-family="Liberation Serif, serif" font-weight="bold" fill="#000">
<text x="419.9" y="621.1" font-size="35" text-anchor="middle">Time(s)</text>
<text transform="translate(25.6,266.9) rotate(-90)" font-size="35.2" text-anchor="middle">Mixing index(-)</text>
<text x="552" y="47.1" font-size="33.8">Structure A</text>
<text x="552" y="88.4" font-size="33.8">Structure B</text>
<text x="552" y="129.7" font-size="33.8">Structure C</text>
</g>
<rect x="508.04999999999995" y="30.65" width="11.5" height="11.5" fill="#4f4f4f"/>
<circle cx="513.5" cy="78.2" r="6.75" fill="#ef3c40"/>
<path d="M513.7 111.45 L521.7 124.95 L505.70000000000005 124.95 Z" fill="#1b6ee0"/>
</svg>
</body></html>
